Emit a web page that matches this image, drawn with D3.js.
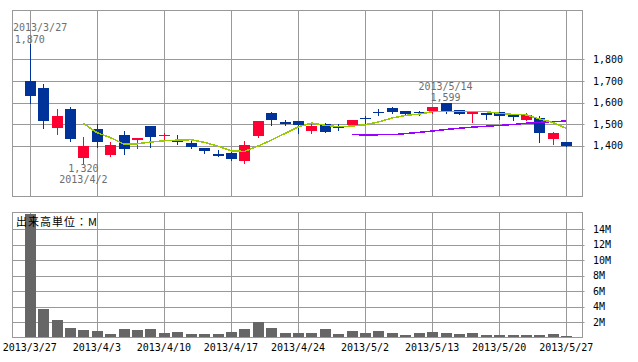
<!DOCTYPE html>
<html>
<head>
<meta charset="utf-8">
<script src="https://cdn.jsdelivr.net/npm/d3@7"></script>
<style>
body { margin: 0; background: #fff; }
text { font-family: "DejaVu Sans Mono", monospace; font-size: 10px; }
</style>
</head>
<body>
<div id="chart"></div>
<script>
// trading days shown
var dates = ['2013/3/27','2013/3/28','2013/3/29','2013/4/1','2013/4/2','2013/4/3','2013/4/4','2013/4/5',
	'2013/4/8','2013/4/9','2013/4/10','2013/4/11','2013/4/12','2013/4/15','2013/4/16','2013/4/17',
	'2013/4/18','2013/4/19','2013/4/22','2013/4/23','2013/4/24','2013/4/25','2013/4/26','2013/4/30',
	'2013/5/1','2013/5/2','2013/5/7','2013/5/8','2013/5/9','2013/5/10','2013/5/13','2013/5/14',
	'2013/5/15','2013/5/16','2013/5/17','2013/5/20','2013/5/21','2013/5/22','2013/5/23','2013/5/24','2013/5/27'];

var opens  = [1700,1668,1485,1570,1345,1478,1360,1450,1429,1492,1450,1425,1414,1390,1363,1366,1332,1446,1552,1511,
	1515,1471,1500,1489,1497,1527,1558,1575,1561,1555,1561,1599,1566,1549,1552,1557,1548,1522,1530,1434,1418];
var highs  = [1870,1686,1571,1580,1440,1500,1418,1469,1438,1492,1462,1451,1425,1390,1382,1378,1423,1515,1557,1520,
	1515,1503,1506,1500,1522,1538,1570,1580,1561,1560,1580,1599,1566,1558,1552,1557,1548,1552,1538,1466,1418];
var lows   = [1600,1484,1457,1424,1320,1397,1355,1363,1392,1397,1430,1410,1392,1366,1355,1335,1322,1443,1498,1498,
	1458,1462,1466,1474,1497,1508,1542,1550,1544,1542,1550,1554,1549,1512,1523,1526,1521,1520,1420,1411,1401];
var closes = [1630,1517,1538,1434,1400,1420,1405,1388,1438,1440,1451,1418,1397,1378,1355,1341,1405,1515,1521,1503,
	1498,1491,1466,1487,1520,1525,1556,1555,1549,1552,1580,1561,1549,1558,1545,1540,1536,1543,1462,1462,1401];

// moving averages as seen on the chart (5 and 25 days)
var ma5 = [null,null,null,null,1504,1462,1439,1409,1410,1418,1424,1427,1429,1417,1400,1378,1375,1399,1427,1457,
	1488,1506,1496,1489,1492,1498,1511,1529,1541,1547,1558,1559,1558,1560,1559,1551,1546,1544,1525,1509,1481];
var ma25 = [null,null,null,null,null,null,null,null,null,null,null,null,null,null,null,null,null,null,null,null,
	null,null,null,null,1454,1450,1452,1452,1457,1463,1469,1476,1482,1487,1491,1495,1499,1505,1509,1513,1515];

// volume, millions of shares
var volumes = [16.0,3.68,2.25,1.21,0.95,0.78,0.43,1.08,0.95,1.08,0.56,0.69,0.43,0.43,0.43,0.69,1.08,1.99,1.21,0.56,
	0.56,0.56,1.08,0.43,0.82,0.56,0.82,0.56,0.35,0.56,0.69,0.56,0.43,0.56,0.30,0.30,0.30,0.30,0.30,0.43,0.17];

var priceTicks = [1400,1500,1600,1700,1800];
var volumeTicks = [2,4,6,8,10,12,14];
var dateTicks = ['2013/3/27','2013/4/3','2013/4/10','2013/4/17','2013/4/24','2013/5/2','2013/5/13','2013/5/20','2013/5/27'];

var notes = [
	{date: '2013/3/27', value: 1870, side: 'high'},
	{date: '2013/5/14', value: 1599, side: 'high'},
	{date: '2013/4/2', value: 1320, side: 'low'}
];

var W = 638, H = 362;
var left = 12.5, right = 582.5;
var gridColor = '#999999';
var upColor = '#ff0033', downColor = '#003399';

var svg = d3.select('#chart').append('svg')
	.attr('width', W)
	.attr('height', H);

var x = d3.scalePoint().domain(dates).range([13, 583]).padding(1.25);
var y = d3.scaleLinear().domain([1166.9, 2025.4]).range([196.5, 10.5]);
var yv = d3.scaleLinear().domain([0, 16.16]).range([337.5, 212.5]);

function px(v) { return Math.round(v) + 0.5; }

// ---- price panel ----
var priceG = svg.append('g');

priceG.selectAll('line.h').data(priceTicks).enter().append('line')
	.attr('x1', left).attr('x2', right + 2)
	.attr('y1', function(d){ return px(y(d)); })
	.attr('y2', function(d){ return px(y(d)); })
	.attr('stroke', gridColor);

priceG.selectAll('line.v').data(dateTicks).enter().append('line')
	.attr('x1', function(d){ return px(x(d)); })
	.attr('x2', function(d){ return px(x(d)); })
	.attr('y1', y.range()[1]).attr('y2', y.range()[0])
	.attr('stroke', gridColor);

priceG.append('rect')
	.attr('x', left).attr('y', y.range()[1])
	.attr('width', right - left).attr('height', y.range()[0] - y.range()[1])
	.attr('fill', 'none').attr('stroke', gridColor);

var idx = d3.range(dates.length);
function col(i){ return closes[i] > opens[i] ? upColor : downColor; }

priceG.selectAll('line.wick').data(idx).enter().append('line')
	.attr('x1', function(i){ return px(x(dates[i])); })
	.attr('x2', function(i){ return px(x(dates[i])); })
	.attr('y1', function(i){ return Math.round(y(highs[i])); })
	.attr('y2', function(i){ return Math.round(y(lows[i])) + 1; })
	.attr('stroke', col)
	.attr('shape-rendering', 'crispEdges');

priceG.selectAll('rect.body').data(idx).enter().append('rect')
	.attr('x', function(i){ return Math.round(x(dates[i])) - 5; })
	.attr('width', 11)
	.attr('y', function(i){ return Math.round(y(Math.max(opens[i], closes[i]))); })
	.attr('height', function(i){
		return Math.max(1, Math.round(y(Math.min(opens[i], closes[i]))) - Math.round(y(Math.max(opens[i], closes[i]))));
	})
	.attr('fill', col)
	.attr('shape-rendering', 'crispEdges');

var maLine = d3.line()
	.defined(function(d){ return d != null; })
	.x(function(d, i){ return x(dates[i]); })
	.y(function(d){ return y(d); });

priceG.append('path').datum(ma25)
	.attr('d', maLine)
	.attr('fill', 'none').attr('stroke', '#9900ff').attr('stroke-width', 1.5)
	.attr('shape-rendering', 'crispEdges');
priceG.append('path').datum(ma5)
	.attr('d', maLine)
	.attr('fill', 'none').attr('stroke', '#99cc00').attr('stroke-width', 1.5)
	.attr('shape-rendering', 'crispEdges');

priceG.selectAll('text.tick').data(priceTicks).enter().append('text')
	.attr('x', 593)
	.attr('y', function(d){ return y(d); })
	.attr('dy', '0.35em')
	.attr('fill', '#000')
	.text(d3.format(','));

// high / low notes
notes.forEach(function(n){
	var cx = x(n.date);
	var vy = y(n.value);
	var rows = n.side === 'high'
		? [[n.date, vy - 16.5], [d3.format(',')(n.value), vy - 5]]
		: [[d3.format(',')(n.value), vy + 5.3], [n.date, vy + 16.6]];
	rows.forEach(function(r){
		var t = priceG.append('text')
			.attr('y', r[1]).attr('dy', '0.35em')
			.attr('fill', '#6e6e6e')
			.text(r[0]);
		var w = t.node().getComputedTextLength();
		var tx = Math.max(left + 0.5, Math.min(cx - w / 2, right - w));
		t.attr('x', tx);
	});
});

// ---- volume panel ----
var volG = svg.append('g');

volG.selectAll('line.h').data(volumeTicks).enter().append('line')
	.attr('x1', left).attr('x2', right + 2)
	.attr('y1', function(d){ return px(yv(d)); })
	.attr('y2', function(d){ return px(yv(d)); })
	.attr('stroke', gridColor);

volG.selectAll('line.v').data(dateTicks).enter().append('line')
	.attr('x1', function(d){ return px(x(d)); })
	.attr('x2', function(d){ return px(x(d)); })
	.attr('y1', yv.range()[1]).attr('y2', yv.range()[0])
	.attr('stroke', gridColor);

volG.selectAll('rect.vol').data(idx).enter().append('rect')
	.attr('x', function(i){ return Math.round(x(dates[i])) - 5; })
	.attr('width', 11)
	.attr('y', function(i){ return Math.round(yv(volumes[i])); })
	.attr('height', function(i){ return Math.round(yv(0)) - Math.round(yv(volumes[i])); })
	.attr('fill', '#666666')
	.attr('shape-rendering', 'crispEdges');

volG.append('rect')
	.attr('x', left).attr('y', yv.range()[1])
	.attr('width', right - left).attr('height', yv.range()[0] - yv.range()[1])
	.attr('fill', 'none').attr('stroke', gridColor);

volG.selectAll('text.tick').data(volumeTicks).enter().append('text')
	.attr('x', 593)
	.attr('y', function(d){ return yv(d); })
	.attr('dy', '0.35em')
	.attr('fill', '#000')
	.text(function(d){ return d + 'M'; });

volG.selectAll('text.date').data(dateTicks).enter().append('text')
	.attr('x', function(d){ return x(d); })
	.attr('y', 347)
	.attr('dy', '0.35em')
	.attr('text-anchor', 'middle')
	.attr('fill', '#000')
	.text(function(d){ return d; });

volG.append('text')
	.attr('x', 16).attr('y', 222).attr('dy', '0.35em')
	.attr('fill', '#000')
	.style('font-family', '"Noto Sans CJK JP", sans-serif')
	.style('font-size', '11px')
	.style('letter-spacing', '1px')
	.text('出来高単位：M');
</script>
</body>
</html>
